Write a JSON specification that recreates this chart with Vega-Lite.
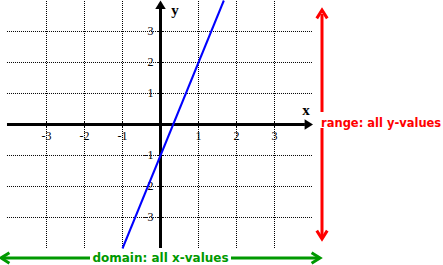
{
  "$schema": "https://vega.github.io/schema/vega-lite/v6.json",
  "width": 443,
  "height": 265,
  "autosize": "none",
  "padding": 0,
  "background": "white",
  "config": {"view": {"stroke": null}},
  "datasets": {
    "gridV": [
      {"x": -3, "y": -3.984, "y2": 4.016}, {"x": -2, "y": -3.984, "y2": 4.016}, {"x": -1, "y": -3.984, "y2": 4.016},
      {"x": 1, "y": -3.984, "y2": 4.016}, {"x": 2, "y": -3.984, "y2": 4.016}, {"x": 3, "y": -3.984, "y2": 4.016}
    ],
    "gridH": [
      {"y": -3, "x": -4.04, "x2": 3.987}, {"y": -2, "x": -4.04, "x2": 3.987}, {"y": -1, "x": -4.04, "x2": 3.987},
      {"y": 1, "x": -4.04, "x2": 3.987}, {"y": 2, "x": -4.04, "x2": 3.987}, {"y": 3, "x": -4.04, "x2": 3.987}
    ],
    "axes": [
      {"x": -4.04, "x2": 3.8, "y": 0, "y2": 0},
      {"x": 0, "x2": 0, "y": -3.984, "y2": 3.76}
    ],
    "xArrow": [{"x": 4.013, "y": 0}],
    "yArrow": [{"x": 0, "y": 4.0}],
    "xTicks": [
      {"x": -3, "x2": -3, "y": -0.1, "y2": 0.1}, {"x": -2, "x2": -2, "y": -0.1, "y2": 0.1}, {"x": -1, "x2": -1, "y": -0.1, "y2": 0.1},
      {"x": 1, "x2": 1, "y": -0.1, "y2": 0.1}, {"x": 2, "x2": 2, "y": -0.1, "y2": 0.1}, {"x": 3, "x2": 3, "y": -0.1, "y2": 0.1}
    ],
    "yTicks": [
      {"y": -3, "y2": -3, "x": -0.08, "x2": 0.08}, {"y": -2, "y2": -2, "x": -0.08, "x2": 0.08}, {"y": -1, "y2": -1, "x": -0.08, "x2": 0.08},
      {"y": 1, "y2": 1, "x": -0.08, "x2": 0.08}, {"y": 2, "y2": 2, "x": -0.08, "x2": 0.08}, {"y": 3, "y2": 3, "x": -0.08, "x2": 0.08}
    ],
    "xLabels": [
      {"x": -3, "y": 0, "label": "-3"}, {"x": -2, "y": 0, "label": "-2"}, {"x": -1, "y": 0, "label": "-1"},
      {"x": 1, "y": 0, "label": "1"}, {"x": 2, "y": 0, "label": "2"}, {"x": 3, "y": 0, "label": "3"}
    ],
    "yLabels": [
      {"x": 0, "y": -3, "label": "-3"}, {"x": 0, "y": -2, "label": "-2"}, {"x": 0, "y": -1, "label": "-1"},
      {"x": 0, "y": 1, "label": "1"}, {"x": 0, "y": 2, "label": "2"}, {"x": 0, "y": 3, "label": "3"}
    ],
    "axisNames": [
      {"x": 0.38, "y": 3.69, "label": "y"},
      {"x": 3.83, "y": 0.47, "label": "x"}
    ],
    "fn": [{"x": -1, "y": -4, "x2": 1.6667, "y2": 4}],
    "redShaft": [
      {"x": 4.25, "x2": 4.25, "y": 3.565, "y2": 0.403},
      {"x": 4.25, "x2": 4.25, "y": -0.113, "y2": -3.597}
    ],
    "redUp": [{"x": 4.25, "y": 3.694}],
    "redDown": [{"x": 4.25, "y": -3.694}],
    "redText": [{"x": 4.224, "y": 0, "label": "range: all y-values"}],
    "greenShaft": [
      {"x": -4.14, "x2": -1.855, "y": -4.306, "y2": -4.306},
      {"x": 1.855, "x2": 4.145, "y": -4.306, "y2": -4.306}
    ],
    "greenLeft": [{"x": -4.197, "y": -4.306}],
    "greenRight": [{"x": 4.197, "y": -4.306}],
    "greenText": [{"x": 0.0, "y": -4.306, "label": "domain: all x-values"}]
  },
  "encoding": {
    "x": {"field": "x", "type": "quantitative", "scale": {"domain": [-4.2237, 7.4342], "nice": false, "zero": false}, "axis": null},
    "y": {"field": "y", "type": "quantitative", "scale": {"domain": [-4.5323, 4.0161], "nice": false, "zero": false}, "axis": null}
  },
  "layer": [
    {"data": {"name": "gridV"}, "mark": {"type": "rule", "color": "black", "strokeWidth": 1, "strokeDash": [1, 1]}, "encoding": {"y2": {"field": "y2"}}},
    {"data": {"name": "gridH"}, "mark": {"type": "rule", "color": "black", "strokeWidth": 1, "strokeDash": [1, 1]}, "encoding": {"x2": {"field": "x2"}}},
    {"data": {"name": "xTicks"}, "mark": {"type": "rule", "color": "black", "strokeWidth": 1}, "encoding": {"x2": {"field": "x2"}, "y2": {"field": "y2"}}},
    {"data": {"name": "yTicks"}, "mark": {"type": "rule", "color": "black", "strokeWidth": 1}, "encoding": {"x2": {"field": "x2"}, "y2": {"field": "y2"}}},
    {"data": {"name": "axes"}, "mark": {"type": "rule", "color": "black", "strokeWidth": 3}, "encoding": {"x2": {"field": "x2"}, "y2": {"field": "y2"}}},
    {"data": {"name": "xArrow"}, "mark": {"type": "point", "shape": "M0,0L-1.6,-1L-1.6,1Z", "filled": true, "color": "black", "size": 110, "opacity": 1}},
    {"data": {"name": "yArrow"}, "mark": {"type": "point", "shape": "M0,0L-1,1.6L1,1.6Z", "filled": true, "color": "black", "size": 110, "opacity": 1}},
    {"data": {"name": "xLabels"}, "mark": {"type": "text", "font": "Liberation Serif", "fontSize": 12, "color": "black", "align": "center", "baseline": "middle", "dy": 12}, "encoding": {"text": {"field": "label"}}},
    {"data": {"name": "yLabels"}, "mark": {"type": "text", "font": "Liberation Serif", "fontSize": 12, "color": "black", "align": "right", "baseline": "middle", "dx": -7}, "encoding": {"text": {"field": "label"}}},
    {"data": {"name": "axisNames"}, "mark": {"type": "text", "font": "Liberation Serif", "fontSize": 15, "fontWeight": "bold", "color": "black", "align": "center", "baseline": "middle"}, "encoding": {"text": {"field": "label"}}},
    {"data": {"name": "fn"}, "mark": {"type": "rule", "color": "#0000ff", "strokeWidth": 2}, "encoding": {"x2": {"field": "x2"}, "y2": {"field": "y2"}}},
    {"data": {"name": "redShaft"}, "mark": {"type": "rule", "color": "#ff0000", "strokeWidth": 3}, "encoding": {"x2": {"field": "x2"}, "y2": {"field": "y2"}}},
    {"data": {"name": "redUp"}, "mark": {"type": "point", "shape": "M-1,1.6L0,0L1,1.6", "filled": false, "stroke": "#ff0000", "strokeWidth": 3, "size": 110, "opacity": 1}},
    {"data": {"name": "redDown"}, "mark": {"type": "point", "shape": "M-1,-1.6L0,0L1,-1.6", "filled": false, "stroke": "#ff0000", "strokeWidth": 3, "size": 110, "opacity": 1}},
    {"data": {"name": "redText"}, "mark": {"type": "text", "font": "DejaVu Sans", "fontSize": 11.5, "fontWeight": "bold", "color": "#ff0000", "align": "left", "baseline": "middle"}, "encoding": {"text": {"field": "label"}}},
    {"data": {"name": "greenShaft"}, "mark": {"type": "rule", "color": "#009900", "strokeWidth": 3}, "encoding": {"x2": {"field": "x2"}, "y2": {"field": "y2"}}},
    {"data": {"name": "greenLeft"}, "mark": {"type": "point", "shape": "M1.6,-1L0,0L1.6,1", "filled": false, "stroke": "#009900", "strokeWidth": 3, "size": 110, "opacity": 1}},
    {"data": {"name": "greenRight"}, "mark": {"type": "point", "shape": "M-1.6,-1L0,0L-1.6,1", "filled": false, "stroke": "#009900", "strokeWidth": 3, "size": 110, "opacity": 1}},
    {"data": {"name": "greenText"}, "mark": {"type": "text", "font": "DejaVu Sans", "fontSize": 12, "fontWeight": "bold", "color": "#009900", "align": "center", "baseline": "middle"}, "encoding": {"text": {"field": "label"}}}
  ]
}
